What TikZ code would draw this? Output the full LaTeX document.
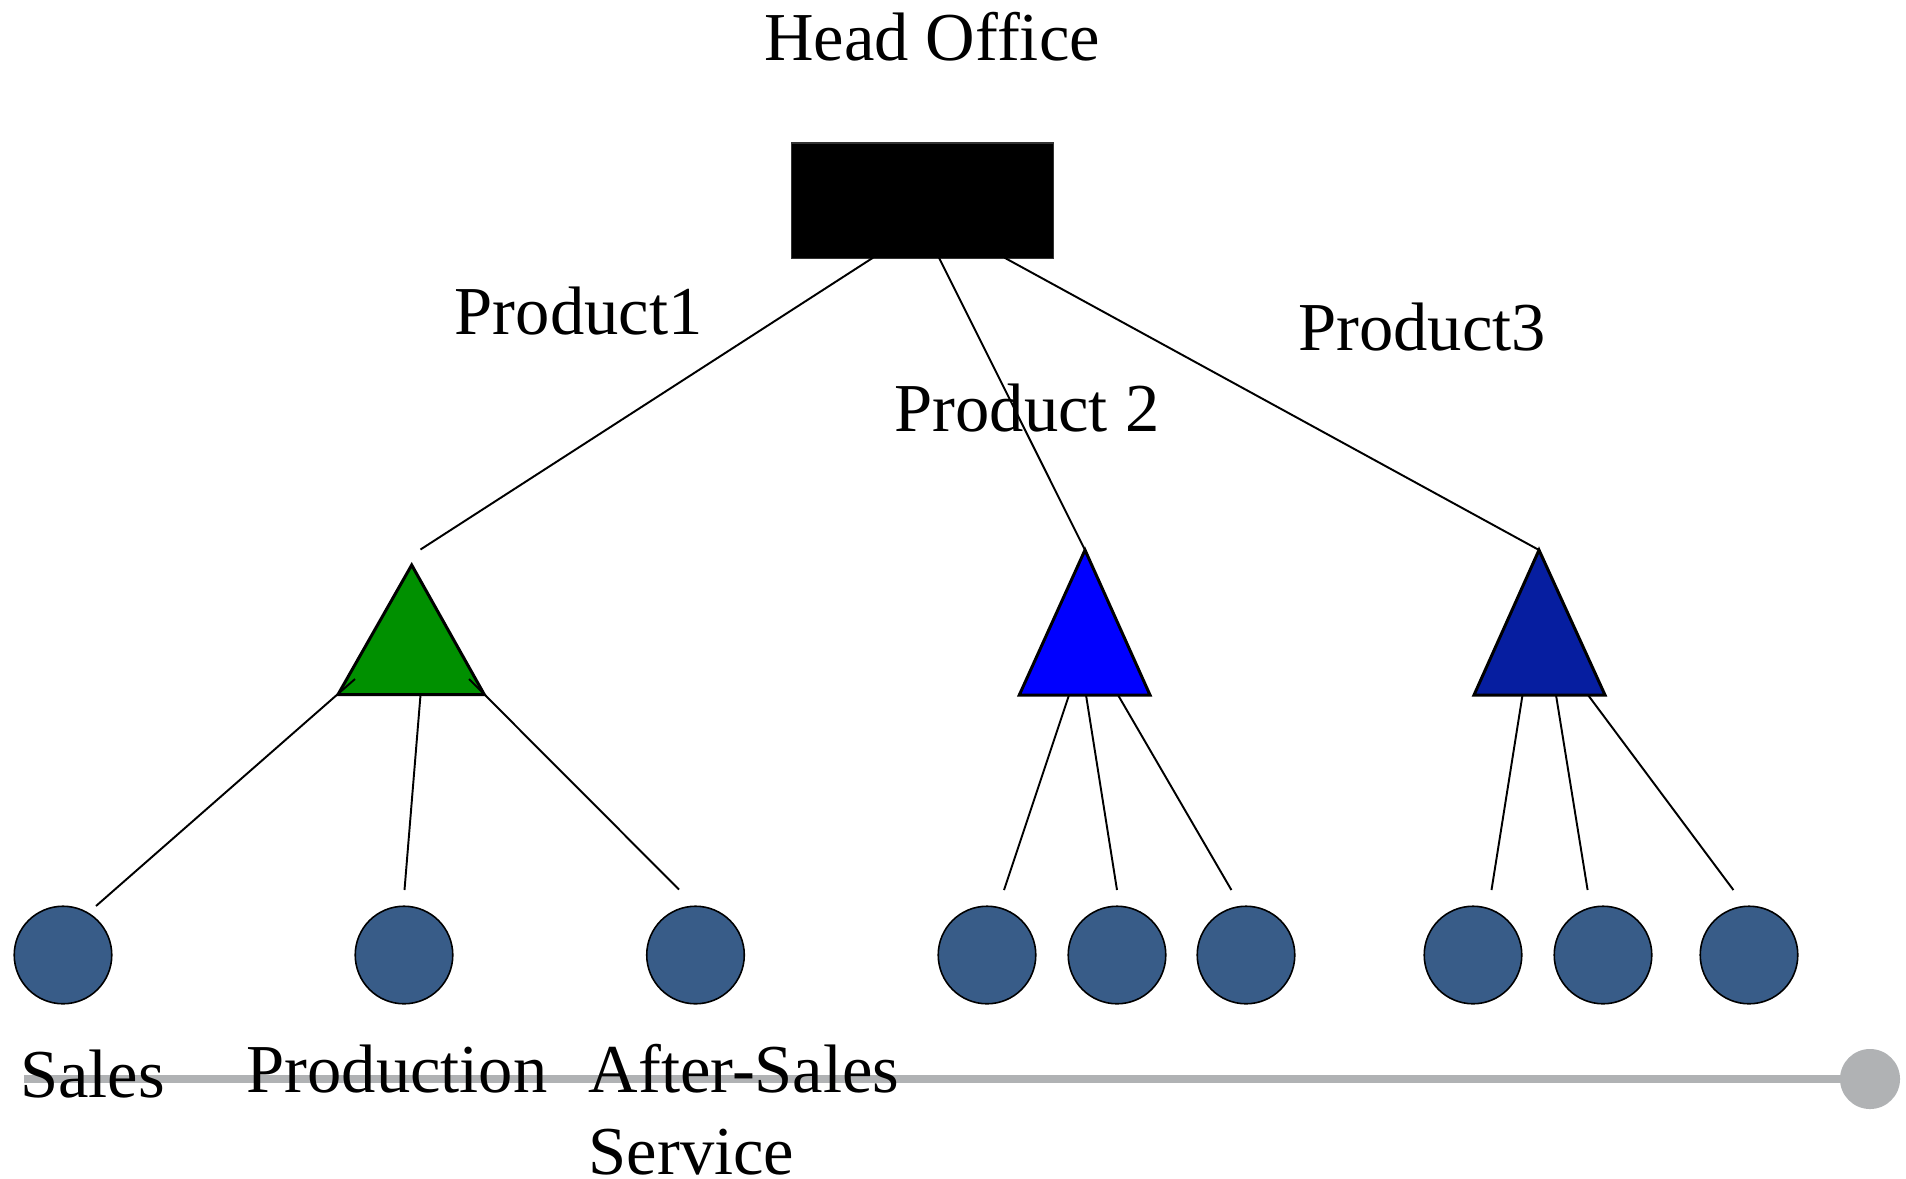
\documentclass[tikz,border=0pt]{standalone}
\usepackage{fontspec}
\setmainfont{Liberation Serif}
\definecolor{trigreen}{RGB}{0,144,0}
\definecolor{triblue}{RGB}{0,0,255}
\definecolor{tridark}{RGB}{6,30,160}
\definecolor{leafblue}{RGB}{56,92,136}
\definecolor{bargray}{RGB}{176,178,180}
\begin{document}
\begin{tikzpicture}[x=0.01cm,y=-0.01cm,
  lbl/.style={font=\fontsize{19.5}{23.5}\selectfont, inner sep=0pt, anchor=base},
  leaf/.style={circle, draw=black, line width=0.45pt, fill=leafblue, minimum size=0.975cm, inner sep=0pt},
  conn/.style={draw=black, line width=0.55pt},
  tri/.style={draw=black, line width=0.85pt, line join=miter}]
\useasboundingbox (0,0) rectangle (1906,1178);

% gray bar
\node[circle, fill=bargray, minimum size=0.6cm, inner sep=0pt] (knob) at (1870,1079) {};
\coordinate (barstart) at (24,1079);
\draw[bargray, line width=2.3pt] (barstart) -- (knob.center);

% head office
\node[draw=black!80, line width=0.3pt, fill=black, minimum width=2.61cm, minimum height=1.15cm, inner sep=0pt] (head) at (922.5,200.5) {};
\node[lbl] (headlbl) at (932,60) {Head Office};

% triangles
\coordinate (gA) at (411.7,565); \coordinate (gL) at (338,694.5); \coordinate (gR) at (484.3,694.5);
\coordinate (bA) at (1085,550); \coordinate (bL) at (1019.3,695); \coordinate (bR) at (1150,695);
\coordinate (dA) at (1539,550); \coordinate (dL) at (1474,695); \coordinate (dR) at (1605,695);
\draw[tri, fill=trigreen] (gA) -- (gL) -- (gR) -- cycle;
\draw[tri, fill=triblue] (bA) -- (bL) -- (bR) -- cycle;
\draw[tri, fill=tridark] (dA) -- (dL) -- (dR) -- cycle;

% top connectors
\coordinate (h1) at (873,257.7); \coordinate (h2) at (939,257.7); \coordinate (h3) at (1004.5,257.7);
\coordinate (gTop) at (420.5,549.5);
\draw[conn] (h1) -- (gTop);
\draw[conn] (h2) -- (bA);
\draw[conn] (h3) -- (dA);

% leaves
\node[leaf] (s1) at (63,955) {};
\node[leaf] (s2) at (404,955) {};
\node[leaf] (s3) at (695.5,955) {};
\node[leaf] (p1) at (987,955) {};
\node[leaf] (p2) at (1117,955) {};
\node[leaf] (p3) at (1246,955) {};
\node[leaf] (q1) at (1473,955) {};
\node[leaf] (q2) at (1603,955) {};
\node[leaf] (q3) at (1749,955) {};

% lower connectors
\coordinate (gs1) at (355,679);  \coordinate (ge1) at (96,906);
\coordinate (gs2) at (420.5,695); \coordinate (ge2) at (404.5,890);
\coordinate (gs3) at (469,679);  \coordinate (ge3) at (679,889.5);
\draw[conn] (gs1) -- (ge1);
\draw[conn] (gs2) -- (ge2);
\draw[conn] (gs3) -- (ge3);
\coordinate (bs1) at (1069,695); \coordinate (be1) at (1004,890);
\coordinate (bs2) at (1086,695); \coordinate (be2) at (1117,890);
\coordinate (bs3) at (1118,695); \coordinate (be3) at (1231.4,890);
\draw[conn] (bs1) -- (be1);
\draw[conn] (bs2) -- (be2);
\draw[conn] (bs3) -- (be3);
\coordinate (ds1) at (1522.5,695); \coordinate (de1) at (1491.5,890);
\coordinate (ds2) at (1556,695);   \coordinate (de2) at (1587.6,890);
\coordinate (ds3) at (1588,695);   \coordinate (de3) at (1733.4,890);
\draw[conn] (ds1) -- (de1);
\draw[conn] (ds2) -- (de2);
\draw[conn] (ds3) -- (de3);

% labels
\node[lbl] (l1) at (578.6,334) {Product1};
\node[lbl] (l2) at (1027,431) {Product 2};
\node[lbl] (l3) at (1422,350) {Product3};
\node[lbl] (ls) at (92.5,1097) {Sales};
\node[lbl] (lp) at (397,1092) {Production};
\node[lbl, anchor=base west, align=left, font=\fontsize{19.5}{23.2}\selectfont] (la) at (588,1174) {After-Sales\\Service};
\end{tikzpicture}
\end{document}
